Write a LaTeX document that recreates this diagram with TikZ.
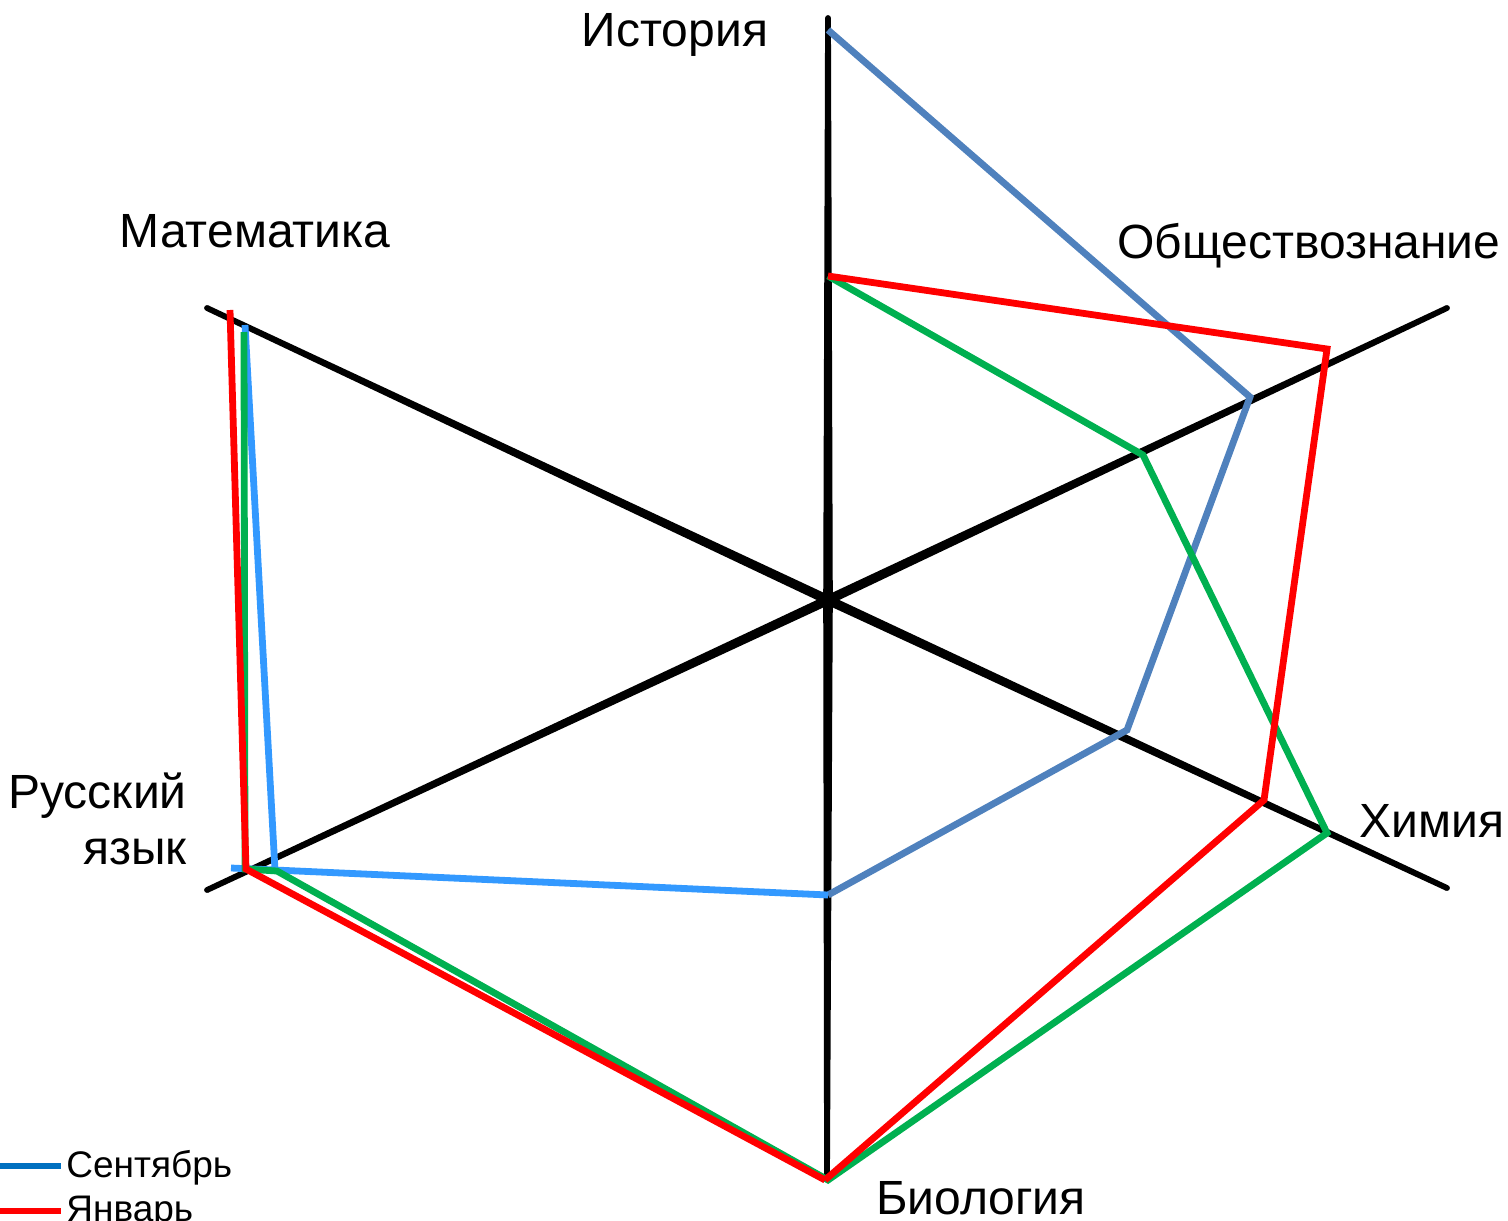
\documentclass[tikz,border=0pt]{standalone}
\usepackage{fontspec}
\setmainfont{Liberation Sans}
\usetikzlibrary{calc}
\definecolor{sept}{HTML}{4F81BD}
\definecolor{septl}{HTML}{3399FF}
\definecolor{legblue}{HTML}{0070C0}
\definecolor{jan}{HTML}{FF0000}
\definecolor{grn}{HTML}{00B050}
\newcommand{\halfaxis}[1]{%
  \fill[black] ($(O)!2.4pt!90:(#1)$) -- ($(#1)!1.45pt!-90:(O)$) -- ($(#1)!1.45pt!90:(O)$) -- ($(O)!2.4pt!-90:(#1)$) -- cycle;
  \fill[black] (#1) circle[radius=1.45pt];}
\begin{document}
\begin{tikzpicture}[x=0.5pt,y=-0.5pt,
  ser/.style={line width=3.4pt,line join=miter},
  lab/.style={font=\fontsize{24}{28}\selectfont,inner sep=0pt},
  leg/.style={font=\fontsize{18.5}{22}\selectfont,inner sep=0pt,anchor=west}]
\useasboundingbox (0,0) rectangle (1508,1220);
\clip (0,0) rectangle (1508,1220);
% axes
\coordinate (O) at (828,600);
\coordinate (aH) at (828,18);
\coordinate (aB) at (827,1176);
\coordinate (aM) at (207,308);
\coordinate (aC) at (1447,888);
\coordinate (aR) at (207,890);
\coordinate (aS) at (1447,308);
\halfaxis{aH}\halfaxis{aB}\halfaxis{aM}\halfaxis{aC}\halfaxis{aR}\halfaxis{aS}
\fill[black] (O) circle[radius=2.6pt];
% September
\coordinate (sH) at (828,30);
\coordinate (sS) at (1250,397);
\coordinate (sC) at (1127,730);
\coordinate (sB) at (828,895);
\coordinate (sR) at (231,868);
\coordinate (sR2) at (275,870);
\coordinate (sM) at (245,325);
\draw[ser,sept] (sH) -- (sS) -- (sC) -- (sB);
\draw[ser,septl] (sB) -- (sR);
\draw[ser,septl] (sR2) -- (sM);
% green
\coordinate (gH) at (828,276);
\coordinate (gS) at (1143,455);
\coordinate (gC) at (1327,833);
\coordinate (gB) at (828,1180);
\coordinate (gR2) at (277,871);
\coordinate (gR) at (245,869);
\coordinate (gM) at (244,332);
\draw[ser,grn] (gM) -- (gR) -- (gR2) -- (gB) -- (gC) -- (gS) -- (gH);
% January
\coordinate (jH) at (828,276);
\coordinate (jS) at (1327,349);
\coordinate (jC) at (1264,800);
\coordinate (jB) at (825,1180);
\coordinate (jR) at (246,869);
\coordinate (jM) at (230,310);
\draw[ser,jan] (jH) -- (jS) -- (jC) -- (jB);
\draw[ser,jan] (jB) -- (jR) -- (jM);
% labels
\node[lab] (lH) at (675,35) {История};
\node[lab] (lM) at (255,231) {Математика};
\node[lab] (lS) at (1309,246) {Обществознание};
\node[lab] (lC) at (1432,821) {Химия};
\node[lab,align=right,anchor=east] (lR) at (187,819) {Русский\\язык};
\node[lab] (lB) at (981,1198) {Биология};
% legend
\coordinate (l1a) at (0,1166);
\coordinate (l1b) at (61,1166);
\coordinate (l2a) at (0,1211);
\coordinate (l2b) at (61,1211);
\draw[line width=3pt,legblue] (l1a) -- (l1b);
\draw[line width=3pt,jan] (l2a) -- (l2b);
\node[leg] (t1) at (66,1168) {Сентябрь};
\node[leg] (t2) at (66,1213) {Январь};
\end{tikzpicture}
\end{document}
